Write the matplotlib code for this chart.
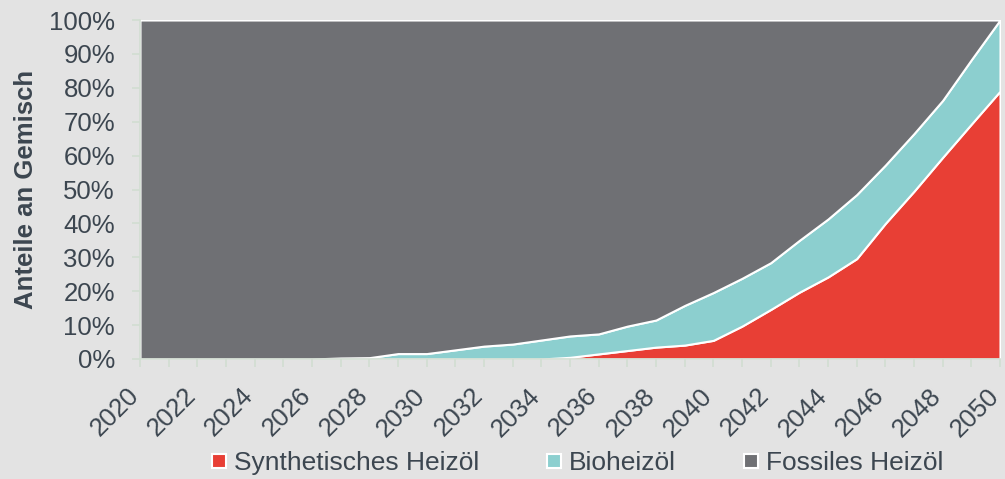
import matplotlib
matplotlib.use("Agg")
import matplotlib.pyplot as plt
from matplotlib.lines import Line2D
from matplotlib.ticker import FuncFormatter, MultipleLocator
from matplotlib.transforms import ScaledTranslation

years = list(range(2020, 2051))
synthetisch = [0, 0, 0, 0, 0, 0, 0, 0, 0, 0, 0, 0, 0, 0, 0,
               0.5, 1.5, 2.5, 3.5, 4.1, 5.5, 9.7, 14.6, 19.7, 24.2, 29.6,
               40.0, 49.5, 59.5, 69.3, 79.0]
bio = [0, 0, 0, 0, 0, 0, 0, 0.3, 0.4, 1.6, 1.6, 2.7, 3.8, 4.4, 5.6,
       6.3, 5.9, 7.2, 8.0, 11.7, 14.1, 14.1, 13.8, 15.3, 17.1, 18.9,
       17.2, 17.0, 16.8, 19.0, 21.0]
fossil = [100 - s - b for s, b in zip(synthetisch, bio)]
labels = ["Synthetisches Heizöl", "Bioheizöl", "Fossiles Heizöl"]
colors = ["#e83f35", "#8ccfcf", "#6f7074"]

bg = "#e3e3e3"
txt = "#3c4650"
tickc = "#d2ddd2"

plt.rcParams['font.family'] = ['Liberation Sans', 'DejaVu Sans']

fig = plt.figure(figsize=(10.05, 4.79), dpi=100, facecolor=bg)
ax = fig.add_axes([140/1005, 1-359/479, 860/1005, 339/479])
ax.set_facecolor(bg)

ax.stackplot(years, synthetisch, bio, fossil, colors=colors,
             edgecolor="white", linewidth=1.5)

ax.set_xlim(2020, 2050)
ax.set_ylim(0, 100)
for s in ax.spines.values():
    s.set_visible(False)
ax.spines['left'].set_visible(True)
ax.spines['bottom'].set_visible(True)
ax.spines['left'].set_color(tickc)
ax.spines['bottom'].set_color(tickc)
ax.spines['left'].set_linewidth(1.2)
ax.spines['bottom'].set_linewidth(1.2)

ax.yaxis.set_major_locator(MultipleLocator(10))
ax.yaxis.set_major_formatter(FuncFormatter(lambda v, p: f"{int(v)}%"))
ax.xaxis.set_major_locator(MultipleLocator(2))
ax.xaxis.set_minor_locator(MultipleLocator(1))
ax.tick_params(axis='both', which='both', color=tickc, width=1.2,
               length=6, labelcolor=txt, labelsize=18.5)
ax.tick_params(axis='y', pad=12)
ax.tick_params(axis='x', pad=3)
offset = ScaledTranslation(-0.135, -0.12, fig.dpi_scale_trans)
for lab in ax.get_xticklabels():
    lab.set_rotation(45)
    lab.set_ha('right')
    lab.set_va('top')
    lab.set_rotation_mode('anchor')
    lab.set_transform(lab.get_transform() + offset)

ax.set_ylabel("Anteile an Gemisch", fontsize=18.5, fontweight='bold',
              color=txt, labelpad=8)

handles = [Line2D([], [], linestyle='none', marker='s', markersize=9.5,
                  markerfacecolor=c, markeredgecolor='white',
                  markeredgewidth=1.5) for c in colors]
fig.legend(handles, labels, loc='center', bbox_to_anchor=(0.575, 0.033),
           ncol=3, frameon=False, fontsize=19, labelcolor=txt,
           handlelength=0.5, handletextpad=0.3, columnspacing=2.6)

fig.savefig("out.png", dpi=100, facecolor=bg)
